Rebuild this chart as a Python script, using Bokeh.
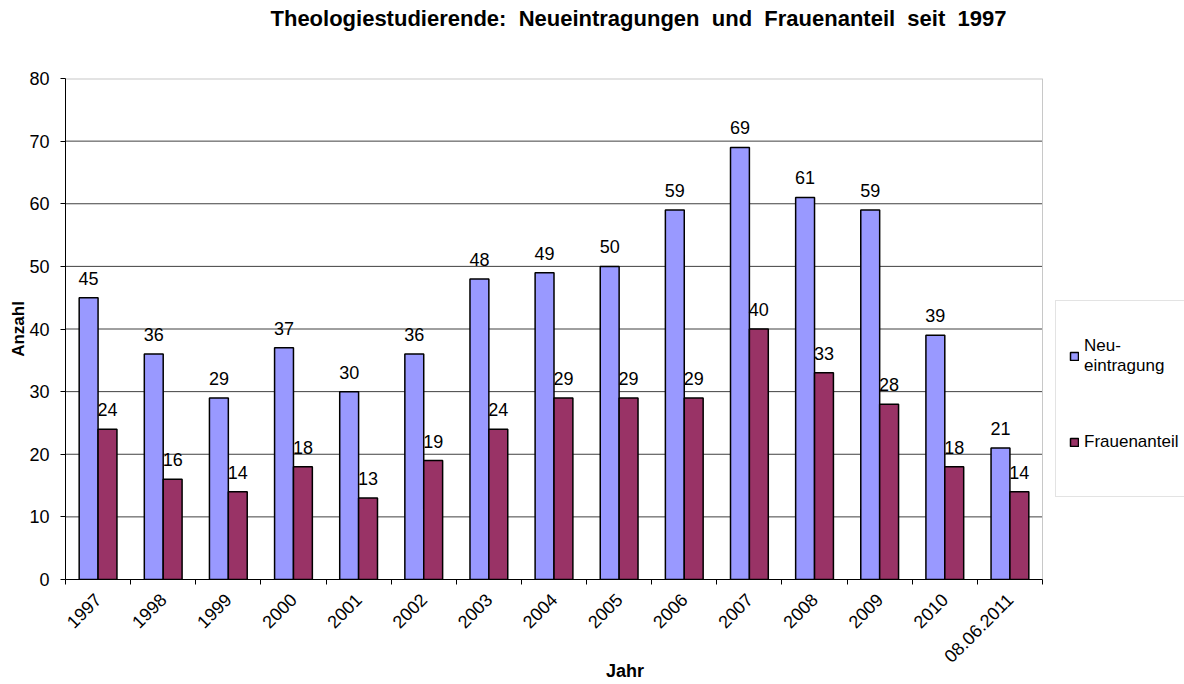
import numpy as np
from bokeh.plotting import figure
from bokeh.models import (ColumnDataSource, Range1d, FixedTicker, LabelSet,
                          Legend, LegendItem, Title)
from bokeh.core.properties import value
from bokeh.embed import file_html
from bokeh.resources import INLINE

years = ["1997", "1998", "1999", "2000", "2001", "2002", "2003", "2004",
         "2005", "2006", "2007", "2008", "2009", "2010", "08.06.2011"]
neueintragung = [45, 36, 29, 37, 30, 36, 48, 49, 50, 59, 69, 61, 59, 39, 21]
frauenanteil = [24, 16, 14, 18, 13, 19, 24, 29, 29, 29, 40, 33, 28, 18, 14]
y_ticks = [0, 10, 20, 30, 40, 50, 60, 70, 80]
title_words = ["Theologiestudierende:", "Neueintragungen", "und",
               "Frauenanteil", "seit", "1997"]

FONT = "Liberation Sans"
BLUE = "#9999FF"
RED = "#993366"

# page layout (pixels)
W, H = 1184, 684
LEFT, TOP, BOTTOM = 65, 78, 105
PLOT_W = 977                      # width of the category area
n = len(years)
frame_w = W - LEFT
x_end = n * frame_w / PLOT_W      # extra room on the right for the legend

centers = np.arange(n) + 0.5
bw = 0.29
src = ColumnDataSource(dict(
    xn=centers - bw / 2, xf=centers + bw / 2,
    n=neueintragung, f=frauenanteil,
    nl=[str(v) for v in neueintragung], fl=[str(v) for v in frauenanteil],
))

p = figure(width=W, height=H, output_backend="svg", toolbar_location=None,
           x_range=Range1d(0, x_end), y_range=Range1d(0, 80),
           min_border_left=LEFT, min_border_right=0, min_border_top=TOP,
           min_border_bottom=BOTTOM)
p.background_fill_color = "white"
p.border_fill_color = "white"
p.outline_line_color = None
p.title.text = ""

# spacer (closest to the frame) and the real title above it
p.add_layout(Title(text=" ", text_font_size="1px", standoff=42), "above")
p.add_layout(Title(text=" \u00a0".join(title_words), align="left", offset=205,
                   standoff=6, text_font=FONT, text_font_size="22px",
                   text_font_style="bold", text_color="black"), "above")

# grid lines and plot-area border restricted to the category area
grid_y = y_ticks[1:-1]
p.segment(x0=[0] * len(grid_y), x1=[n] * len(grid_y), y0=grid_y, y1=grid_y,
          line_color="#404040", line_width=1)
p.segment(x0=[0], x1=[n], y0=[y_ticks[-1]], y1=[y_ticks[-1]],
          line_color="#c8c8c8", line_width=2)
p.segment(x0=[n], x1=[n], y0=[y_ticks[0]], y1=[y_ticks[-1]],
          line_color="#c8c8c8", line_width=1)

rn = p.vbar(x="xn", top="n", width=bw, bottom=0, source=src,
            fill_color=BLUE, line_color="black", line_width=1.5)
rf = p.vbar(x="xf", top="f", width=bw, bottom=0, source=src,
            fill_color=RED, line_color="black", line_width=1.5)

for xcol, ycol, tcol in [("xn", "n", "nl"), ("xf", "f", "fl")]:
    p.add_layout(LabelSet(x=xcol, y=ycol, text=tcol, source=src, y_offset=13,
                          text_align="center", text_baseline="bottom",
                          text_font=value(FONT), text_font_size="18px",
                          text_color="black"))

p.xgrid.visible = False
p.ygrid.visible = False

ya = p.yaxis[0]
ya.ticker = FixedTicker(ticks=y_ticks)
ya.axis_line_color = "black"
ya.major_tick_out = 5
ya.major_tick_in = 0
ya.minor_tick_out = 0
ya.minor_tick_in = 0
ya.major_label_standoff = 11
ya.major_label_text_font = FONT
ya.major_label_text_font_size = "18px"
ya.major_label_text_color = "black"
ya.axis_label = "Anzahl"
ya.axis_label_text_font = FONT
ya.axis_label_text_font_size = "17px"
ya.axis_label_text_font_style = "bold"
ya.axis_label_text_color = "black"
ya.axis_label_standoff = -2

xa = p.xaxis[0]
xa.bounds = (0, n)
xa.ticker = FixedTicker(ticks=list(centers), minor_ticks=list(range(n + 1)))
xa.major_label_overrides = {float(c): y for c, y in zip(centers, years)}
xa.axis_line_color = "black"
xa.major_tick_out = 0
xa.major_tick_in = 0
xa.minor_tick_out = 5
xa.minor_tick_in = 0
xa.minor_tick_line_color = "black"
xa.major_label_orientation = np.pi / 4
xa.major_label_standoff = 12
xa.major_label_text_font = FONT
xa.major_label_text_font_size = "18px"
xa.major_label_text_color = "black"
xa.axis_label = "Jahr"
xa.axis_label_text_font = FONT
xa.axis_label_text_font_size = "18px"
xa.axis_label_text_font_style = "bold"
xa.axis_label_text_color = "black"
xa.axis_label_standoff = -10

legend = Legend(items=[LegendItem(label="Neu-\neintragung", renderers=[rn]),
                       LegendItem(label="Frauenanteil", renderers=[rf])],
                location=(990, 82), margin=0, padding=13, spacing=3,
                glyph_width=10, glyph_height=10, label_standoff=5,
                label_height=83,
                label_text_font=FONT, label_text_font_size="17px",
                label_text_color="black",
                border_line_color="#c8c8c8", border_line_width=1,
                background_fill_color="white", background_fill_alpha=1)
p.add_layout(legend, "center")

open("out.html", "w").write(file_html(p, INLINE))
